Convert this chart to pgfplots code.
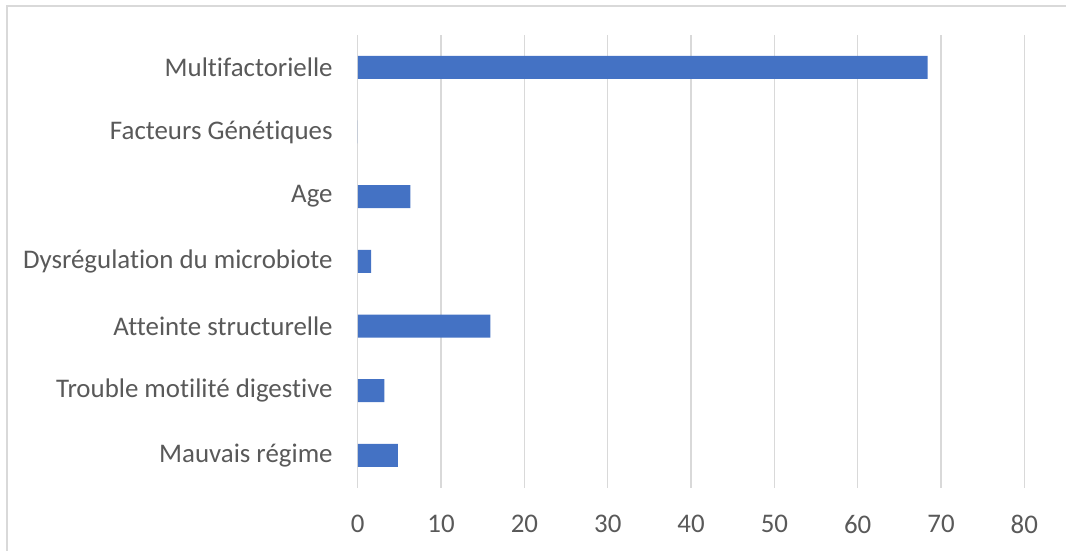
\documentclass[border=0pt]{standalone}
\usepackage{pgfplots}
\pgfplotsset{compat=1.18}
\usepackage{fontspec}
\setmainfont{Carlito}[Ligatures={NoCommon,NoRequired,NoContextual}]
\definecolor{barblue}{HTML}{4472C4}
\definecolor{gridgray}{HTML}{D9D9D9}
\definecolor{labelgray}{HTML}{595959}
\begin{document}
\begin{tikzpicture}
  % axis box sits with its lower left corner at the origin
  \begin{axis}[
      scale only axis, width=667bp, height=453bp,
      xbar, bar width=23bp,
      xmin=0, xmax=80,
      xtick={0,10,...,80},
      ymin=-0.5, ymax=6.5,
      ytick={0,...,6},
      yticklabels={Mauvais régime, Trouble motilité digestive, Atteinte structurelle,
        Dysrégulation du microbiote, Age, Facteurs Génétiques, Multifactorielle},
      axis line style={draw=none},
      major tick length=0pt,
      xmajorgrids,
      grid style={gridgray, line width=1.3bp},
      tick label style={font=\fontsize{27}{31}\selectfont, text=labelgray, inner sep=0pt},
      yticklabel style={anchor=east, xshift=-25bp},
      xticklabel style={anchor=north, yshift=-27bp},
      /pgf/number format/assume math mode=true,
    ]
    \addplot[fill=barblue, draw=none] coordinates {
      (4.8,0) (3.2,1) (15.9,2) (1.6,3) (6.3,4) (0,5) (68.4,6)};
  \end{axis}
  % chart area border (only top and left edges show in the reference)
  \draw[gridgray, line width=1.3bp] (-351bp,-63bp) -- (-351bp,482bp) -- (709bp,482bp);
  \path[use as bounding box] (-358bp,-63bp) rectangle (709bp,488bp);
\end{tikzpicture}
\end{document}
